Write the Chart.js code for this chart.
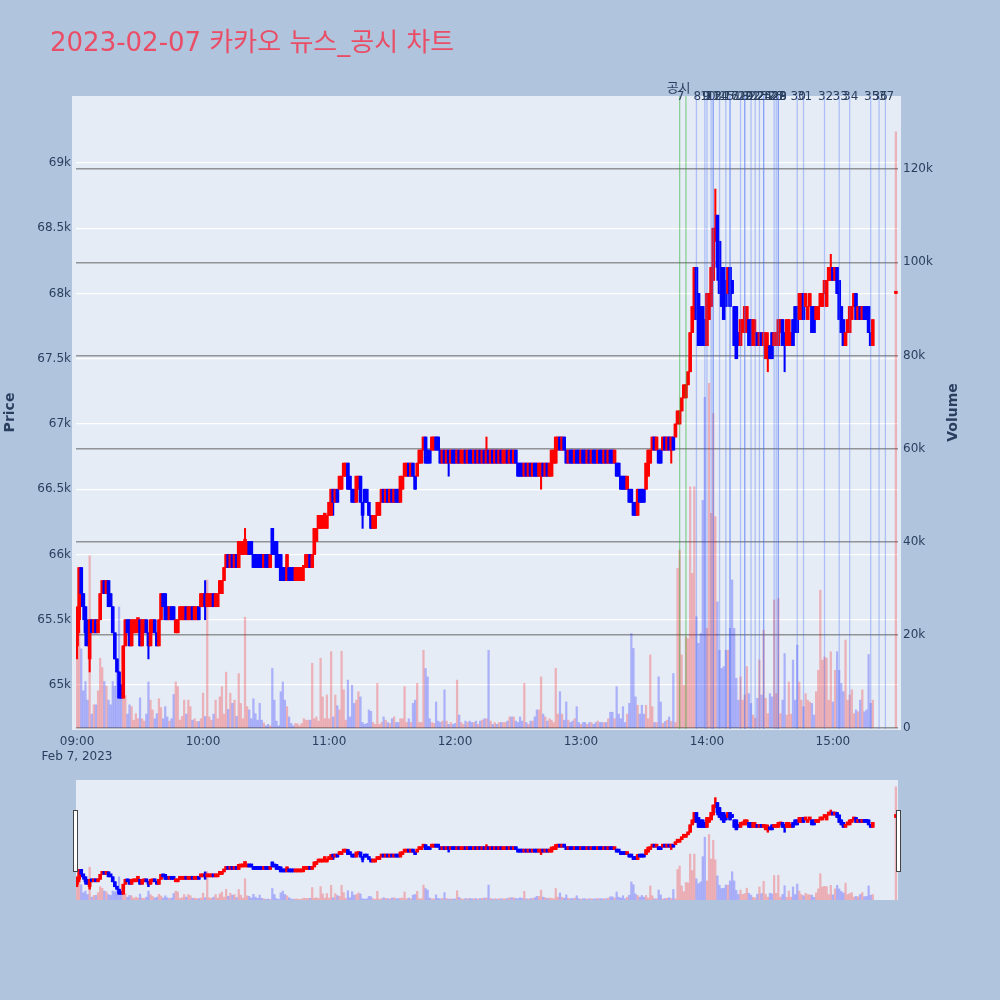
<!DOCTYPE html>
<html>
<head>
<meta charset="utf-8">
<script src="https://cdn.jsdelivr.net/npm/chart.js@4.4.0/dist/chart.umd.min.js"></script>
<style>
  html, body { margin: 0; padding: 0; background: #b0c4de; }
  #wrap { position: relative; width: 1000px; height: 1000px; }
  #main { position: absolute; left: 0; top: 0; }
  #slider { position: absolute; left: 76px; top: 780px; }
  .handle { position: absolute; top: 810px; width: 3px; height: 60px; background: #fff; border: 1px solid #444; }
</style>
</head>
<body>
<div id="wrap">
  <canvas id="main" width="1000" height="1000"></canvas>
  <canvas id="slider" width="822" height="120"></canvas>
  <div class="handle" style="left:73px"></div>
  <div class="handle" style="left:896px"></div>
</div>
<script>
// 1분봉 (09:00 ~ 15:19) + 15:30 종가 단일가
const opens = [
65300,65500,65900,65700,65600,65400,65200,65500,65400,65500,
65400,65500,65700,65800,65700,65800,65700,65600,65400,65200,
65100,65000,64900,65300,65500,65500,65300,65400,65400,65500,
65500,65300,65400,65500,65400,65300,65400,65500,65400,65300,
65500,65700,65700,65600,65500,65600,65600,65400,65400,65500,
65500,65500,65600,65500,65500,65600,65500,65500,65600,65600,
65600,65700,65600,65600,65600,65700,65600,65600,65700,65700,
65800,65900,66000,65900,66000,65900,66000,65900,66000,66000,
66100,66000,66100,66100,66000,66000,66000,66000,66000,65900,
66000,66000,65900,66200,66100,66100,66000,66000,65900,65900,
65800,65900,65900,65900,65800,65800,65800,65800,65900,65900,
65900,66000,65900,66000,66100,66200,66200,66200,66300,66200,
66300,66300,66500,66400,66500,66500,66500,66600,66600,66700,
66600,66500,66500,66400,66500,66600,66400,66500,66500,66400,
66300,66200,66200,66300,66300,66400,66500,66400,66500,66400,
66500,66400,66500,66500,66400,66500,66600,66600,66700,66600,
66700,66600,66600,66700,66700,66800,66900,66800,66800,66800,
66800,66900,66900,66800,66700,66800,66700,66800,66700,66800,
66800,66700,66800,66700,66700,66800,66700,66800,66800,66700,
66800,66700,66800,66700,66800,66700,66800,66700,66800,66700,
66800,66700,66800,66700,66700,66800,66700,66800,66700,66800,
66700,66700,66700,66600,66700,66600,66700,66600,66700,66700,
66600,66600,66700,66600,66700,66600,66600,66700,66700,66800,
66900,66800,66900,66800,66700,66800,66800,66700,66800,66800,
66700,66800,66800,66700,66800,66700,66800,66800,66700,66800,
66800,66700,66800,66700,66800,66800,66700,66700,66700,66600,
66600,66600,66500,66500,66500,66400,66400,66300,66500,66500,
66500,66500,66600,66700,66800,66900,66800,66800,66800,66800,
66900,66800,66900,66800,66900,66900,67000,67000,67100,67200,
67200,67300,67400,67700,67800,68200,68000,67900,67900,67800,
67600,67800,67900,68100,68400,68600,68400,68200,68200,68100,
68000,68200,68100,67900,67900,67700,67600,67700,67700,67700,
67800,67800,67600,67600,67700,67600,67700,67600,67500,67500,
67600,67700,67600,67600,67600,67700,67800,67700,67600,67600,
67600,67800,67900,67900,67800,67800,68000,67900,67800,67900,
67900,67900,67800,67800,67900,67900,68000,67900,68100,68100,
68200,68100,68200,68100,67900,67800,67600,67700,67700,67800,
67900,68000,67800,67900,67800,67900,67900,67900,67700,67600,
68000];

const highs = [
65600,65900,65900,65700,65600,65500,65500,65500,65500,65500,
65500,65700,65800,65800,65800,65800,65700,65600,65400,65200,
65100,65000,65300,65500,65500,65500,65500,65500,65500,65500,
65500,65500,65500,65500,65400,65500,65500,65500,65400,65500,
65700,65700,65700,65600,65600,65600,65600,65500,65500,65600,
65600,65600,65600,65600,65600,65600,65600,65600,65600,65700,
65700,65800,65700,65700,65700,65700,65700,65700,65800,65800,
65900,66000,66000,66000,66000,66000,66000,66100,66100,66100,
66200,66100,66100,66100,66000,66000,66000,66000,66000,66000,
66000,66000,66000,66200,66100,66100,66000,66000,65900,65900,
66000,65900,65900,65900,65900,65900,65900,65900,65900,66000,
66000,66000,66000,66200,66200,66300,66300,66300,66300,66300,
66400,66500,66500,66500,66500,66600,66600,66700,66700,66700,
66600,66500,66500,66600,66600,66600,66400,66500,66500,66400,
66300,66300,66300,66400,66400,66500,66500,66500,66500,66500,
66500,66500,66500,66500,66600,66600,66700,66700,66700,66700,
66700,66600,66700,66800,66800,66900,66900,66800,66800,66900,
66900,66900,66900,66800,66800,66800,66800,66800,66800,66800,
66800,66800,66800,66800,66800,66800,66800,66800,66800,66800,
66800,66800,66800,66800,66800,66900,66800,66800,66800,66800,
66800,66800,66800,66800,66800,66800,66800,66800,66800,66800,
66700,66700,66700,66700,66700,66700,66700,66700,66700,66700,
66700,66700,66700,66700,66700,66700,66800,66800,66900,66900,
66900,66900,66900,66800,66800,66800,66800,66800,66800,66800,
66800,66800,66800,66800,66800,66800,66800,66800,66800,66800,
66800,66800,66800,66800,66800,66800,66800,66700,66700,66600,
66600,66600,66600,66500,66500,66400,66400,66500,66500,66500,
66500,66700,66800,66800,66900,66900,66900,66800,66800,66900,
66900,66900,66900,66900,66900,67000,67100,67100,67200,67300,
67300,67400,67700,67900,68200,68200,68000,67900,67900,67800,
68000,68000,68200,68500,68800,68600,68400,68200,68200,68100,
68200,68200,68100,67900,67900,67700,67800,67800,67900,67900,
67800,67800,67800,67800,67700,67700,67700,67700,67700,67700,
67600,67700,67700,67700,67800,67800,67800,67700,67800,67800,
67700,67800,67900,67900,68000,68000,68000,68000,67900,68000,
67900,67900,67900,67900,68000,68000,68100,68100,68200,68300,
68200,68200,68200,68100,67900,67800,67700,67800,67900,67900,
68000,68000,67900,67900,67900,67900,67900,67900,67700,67800,
68000];

const lows = [
65200,65400,65600,65500,65300,65300,65100,65400,65400,65400,
65400,65500,65700,65700,65700,65600,65600,65400,65200,65100,
64900,64900,64900,65300,65400,65300,65300,65400,65400,65400,
65300,65300,65400,65400,65200,65300,65400,65400,65300,65300,
65500,65600,65500,65500,65500,65500,65500,65400,65400,65500,
65500,65500,65500,65500,65500,65500,65500,65500,65500,65600,
65600,65500,65600,65600,65600,65600,65600,65600,65700,65700,
65800,65900,65900,65900,65900,65900,65900,65900,66000,66000,
66000,66000,66000,66000,65900,65900,65900,65900,65900,65900,
65900,65900,65900,66000,66000,65900,65900,65800,65800,65800,
65800,65800,65800,65800,65800,65800,65800,65800,65800,65900,
65900,65900,65900,66000,66100,66200,66200,66200,66200,66200,
66300,66300,66300,66400,66400,66500,66500,66600,66600,66500,
66500,66400,66400,66400,66500,66400,66200,66400,66400,66300,
66200,66200,66200,66300,66300,66400,66400,66400,66400,66400,
66400,66400,66400,66400,66400,66500,66600,66600,66600,66600,
66600,66500,66600,66700,66700,66800,66700,66700,66700,66800,
66800,66800,66800,66700,66700,66700,66700,66600,66700,66700,
66700,66700,66700,66700,66700,66700,66700,66700,66700,66700,
66700,66700,66700,66700,66700,66700,66700,66700,66700,66700,
66700,66700,66700,66700,66700,66700,66700,66700,66700,66700,
66600,66600,66600,66600,66600,66600,66600,66600,66600,66600,
66600,66500,66600,66600,66600,66600,66600,66700,66700,66800,
66800,66800,66800,66700,66700,66700,66700,66700,66700,66700,
66700,66700,66700,66700,66700,66700,66700,66700,66700,66700,
66700,66700,66700,66700,66700,66700,66700,66600,66600,66500,
66500,66500,66500,66400,66400,66300,66300,66300,66400,66400,
66400,66500,66600,66700,66800,66800,66800,66700,66700,66800,
66800,66800,66800,66700,66800,66900,67000,67000,67100,67200,
67200,67300,67400,67700,67800,67800,67600,67600,67600,67600,
67600,67800,67900,68100,68400,68100,68000,67900,67800,67900,
68000,67900,68000,67600,67500,67600,67600,67700,67700,67700,
67600,67600,67600,67600,67600,67600,67600,67600,67500,67400,
67500,67500,67600,67600,67600,67700,67600,67400,67600,67600,
67600,67600,67700,67700,67800,67800,67800,67900,67800,67900,
67700,67700,67800,67800,67900,67900,68000,67900,68100,68100,
68100,68100,68000,67800,67700,67600,67600,67700,67700,67800,
67900,67800,67800,67800,67800,67800,67800,67700,67600,67600,
68000];

const closes = [
65500,65900,65700,65600,65400,65300,65500,65400,65500,65400,
65500,65700,65800,65700,65800,65600,65600,65400,65200,65100,
64900,64900,65300,65500,65400,65300,65500,65500,65500,65500,
65300,65500,65500,65400,65300,65500,65500,65400,65300,65500,
65700,65600,65500,65500,65600,65500,65500,65500,65500,65600,
65600,65600,65500,65600,65600,65500,65600,65600,65500,65700,
65700,65600,65700,65700,65700,65600,65700,65700,65800,65800,
65900,66000,65900,66000,65900,66000,65900,66100,66100,66100,
66100,66100,66000,66000,65900,65900,65900,65900,65900,66000,
65900,65900,66000,66000,66000,65900,65900,65800,65800,65800,
66000,65800,65800,65800,65900,65900,65900,65900,65900,66000,
66000,65900,66000,66200,66200,66300,66300,66300,66300,66300,
66400,66500,66400,66500,66400,66600,66600,66700,66700,66500,
66500,66400,66400,66600,66600,66400,66300,66400,66400,66300,
66200,66300,66300,66400,66400,66500,66400,66500,66400,66500,
66400,66500,66400,66400,66600,66600,66700,66700,66600,66700,
66600,66500,66700,66800,66800,66900,66700,66700,66700,66900,
66900,66800,66800,66700,66800,66700,66800,66700,66800,66700,
66700,66800,66700,66800,66800,66700,66800,66700,66700,66800,
66700,66800,66700,66800,66700,66800,66700,66800,66700,66800,
66700,66800,66700,66800,66800,66700,66800,66700,66800,66700,
66600,66600,66600,66700,66600,66700,66600,66700,66600,66600,
66700,66700,66600,66700,66600,66700,66800,66800,66900,66900,
66800,66900,66800,66700,66800,66700,66700,66800,66700,66700,
66800,66700,66700,66800,66700,66800,66700,66700,66800,66700,
66700,66800,66700,66800,66700,66700,66800,66600,66600,66500,
66500,66500,66600,66400,66400,66300,66300,66500,66400,66400,
66400,66700,66800,66800,66900,66800,66900,66700,66700,66900,
66800,66900,66800,66900,66800,67000,67100,67100,67200,67300,
67300,67400,67700,67900,68200,67800,67600,67600,67600,67600,
68000,68000,68200,68500,68500,68200,68000,67900,67800,67900,
68200,67900,68000,67600,67500,67600,67800,67800,67900,67900,
67600,67600,67800,67700,67600,67700,67600,67700,67700,67600,
67500,67500,67700,67700,67800,67800,67600,67600,67800,67800,
67700,67600,67700,67700,68000,68000,67800,68000,67900,68000,
67700,67700,67900,67900,68000,68000,68100,68100,68200,68200,
68100,68200,68000,67800,67700,67600,67700,67800,67900,67900,
68000,67800,67900,67800,67900,67800,67800,67700,67600,67800,
68000];

const volumes = [
15000,21000,17000,8000,10000,6000,37000,3000,5000,5000,
8000,15000,13000,10000,9000,6000,5000,10000,9000,12000,
26000,9000,7000,7000,3000,5000,4600,1700,3100,2000,
6500,2000,1500,3000,9900,6000,3900,2000,3100,6300,
4400,2000,4600,2400,1500,2000,7200,9900,8900,1700,
2500,6000,3000,6000,4600,1700,2000,1400,1400,2000,
7500,2500,31800,2400,1700,3000,6000,2000,6700,8900,
3000,12000,4000,7500,5300,6000,2500,11700,5300,2000,
23800,4600,3900,2000,6300,3100,1700,5300,1700,1100,
500,800,500,12800,6000,1500,500,7800,9900,6000,
4600,2400,1000,500,1000,900,500,1000,2000,1700,
1700,1700,13900,2000,2400,1500,15000,6700,2000,7100,
2000,16400,2400,7100,4800,3900,16500,8200,1700,10300,
2400,9200,5300,6000,7800,6700,1200,800,1000,3900,
3600,1200,800,9600,800,1200,2400,1700,1200,1000,
2000,2400,1200,1200,2000,2000,8900,1200,2000,1200,
5300,6000,9600,1200,1200,16700,12800,11000,2000,1200,
1000,5600,1500,1200,1500,8200,1500,800,1200,800,
1000,10300,2800,1200,800,1500,1200,1500,1200,1200,
1500,800,1500,1700,2000,2000,16700,1500,800,1200,
800,1200,1200,1200,1200,1500,2400,2400,2400,1500,
1200,2400,1500,9600,1200,800,1500,1500,2400,3900,
3900,11000,3000,2400,1500,2000,1700,1200,12800,3000,
7800,3000,1700,5600,1700,1200,1500,2000,4600,1200,
800,1200,1200,800,1200,1200,800,1200,1500,1200,
1200,1200,1200,2000,3400,3400,2000,8900,3000,2000,
4600,1200,3000,5300,20300,17100,6700,4900,3000,4900,
3000,4900,2000,15700,4600,1200,1200,11000,5600,1000,
1400,1700,2400,1400,11700,1200,34300,38200,15700,9200,
19600,19200,51800,33200,51800,23900,18200,20300,48900,71000,
21400,74000,46100,67500,45400,27100,16700,12800,13200,16700,
16700,21400,31800,21400,10700,6000,11000,6000,7100,13200,
7400,5300,2800,2100,6400,14600,7100,21000,6400,3100,
7400,6700,27500,7400,27800,3100,6000,16000,2800,9900,
3000,14600,6000,17800,9900,6000,4600,7400,6000,5600,
5300,2800,7800,12400,29600,14600,15300,15000,6000,16400,
5600,12400,16400,12400,9600,7800,18900,6000,7100,8200,
3100,3900,3500,6000,8200,3500,3900,15800,5300,6000,
128000];

// 뉴스/공시 세로선 (09:00 기준 분)
const eventMinutes = [287, 290, 295, 299, 300, 302, 303, 303, 306, 309, 311, 311, 316, 318, 318, 321,
  323, 325, 327, 327, 332, 333, 334, 334, 343, 346, 356, 363, 368, 378, 382, 385];
const eventLabels = ['7', '', '8', '9', '10', '11', '12', '13', '14', '15', '16', '17', '18', '19', '20', '21',
  '22', '23', '24', '25', '26', '27', '28', '29', '30', '31', '32', '33', '34', '35', '36', '37'];
const eventKinds = ['news', 'news', 'disc', 'disc', 'disc', 'disc', 'disc', 'disc', 'disc', 'disc', 'disc',
  'disc', 'disc', 'disc', 'disc', 'disc', 'disc', 'disc', 'disc', 'disc', 'disc', 'disc', 'disc', 'disc',
  'disc', 'disc', 'disc', 'disc', 'disc', 'disc', 'disc', 'disc'];
const groupLabel = '공시';
const groupLabelMinute = 286.5;

const hourTicks = [0, 60, 120, 180, 240, 300, 360];
const hourLabels = ['09:00', '10:00', '11:00', '12:00', '13:00', '14:00', '15:00'];
const dateLabel = 'Feb 7, 2023';
const priceTicks = [65000, 65500, 66000, 66500, 67000, 67500, 68000, 68500, 69000];
const volumeTicks = [0, 20000, 40000, 60000, 80000, 100000, 120000];
const auctionMinute = 390;

const TITLE = '2023-02-07 카카오 뉴스_공시 차트';
const FONT = '"DejaVu Sans", "Noto Sans CJK KR", sans-serif';
const INK = '#2a3f5f';

Chart.defaults.font.family = FONT;
Chart.defaults.font.size = 12;
Chart.defaults.color = INK;

const minutes = opens.map((_, i) => (i < opens.length - 1 ? i : auctionMinute));
const upColors = opens.map((o, i) => (closes[i] >= o ? '#ff0000' : '#0000ff'));
const volColors = opens.map((o, i) => (closes[i] >= o ? 'rgba(255,0,0,0.25)' : 'rgba(0,0,255,0.25)'));

function makeDatasets(bodyMin, wickWidth) {
  return [
    {
      label: 'body', yAxisID: 'y', order: 1, grouped: false, barThickness: 3, minBarLength: bodyMin,
      data: minutes.map((m, i) => ({ x: m, y: [opens[i], closes[i]] })),
      backgroundColor: upColors
    },
    {
      label: 'wick', yAxisID: 'y', order: 2, grouped: false, barThickness: wickWidth,
      data: minutes.map((m, i) => ({ x: m, y: [lows[i], highs[i]] })),
      backgroundColor: upColors
    },
    {
      label: 'Volume', yAxisID: 'yv', order: 3, grouped: false, barThickness: 1.6,
      data: minutes.map((m, i) => ({ x: m, y: volumes[i] })),
      backgroundColor: volColors
    }
  ];
}

const backdrop = {
  id: 'backdrop',
  beforeDraw(chart) {
    const ctx = chart.ctx;
    const a = chart.chartArea;
    ctx.save();
    ctx.fillStyle = '#e5ecf6';
    ctx.fillRect(a.left - 4, a.top, a.right - a.left + 7, a.bottom - a.top + 1);
    ctx.restore();
  }
};

const overlay = {
  id: 'overlay',
  afterDatasetsDraw(chart) {
    const ctx = chart.ctx;
    const xs = chart.scales.x;
    const { top, bottom } = chart.chartArea;
    ctx.save();
    ctx.lineWidth = 1.3;
    eventMinutes.forEach((m, i) => {
      const px = xs.getPixelForValue(m);
      ctx.strokeStyle = eventKinds[i] === 'news' ? 'rgba(30,170,30,0.45)' : 'rgba(70,110,245,0.35)';
      ctx.beginPath();
      ctx.moveTo(px, top);
      ctx.lineTo(px, bottom);
      ctx.stroke();
    });
    ctx.fillStyle = INK;
    ctx.font = '12px ' + FONT;
    ctx.textAlign = 'center';
    ctx.textBaseline = 'middle';
    eventMinutes.forEach((m, i) => {
      if (eventLabels[i]) ctx.fillText(eventLabels[i], xs.getPixelForValue(m) + 1, top + 1);
    });
    ctx.font = '13px ' + FONT;
    ctx.fillText(groupLabel, xs.getPixelForValue(groupLabelMinute), top - 7);
    ctx.restore();
  },
  afterDraw(chart) {
    const ctx = chart.ctx;
    const a = chart.chartArea;
    const midY = (a.top + a.bottom) / 2;
    ctx.save();
    ctx.fillStyle = '#ea4d66';
    ctx.font = '26px ' + FONT;
    ctx.textAlign = 'left';
    ctx.textBaseline = 'alphabetic';
    ctx.fillText(TITLE, 50, 51);
    ctx.fillStyle = INK;
    ctx.font = 'bold 14px ' + FONT;
    ctx.textAlign = 'center';
    ctx.textBaseline = 'middle';
    [['Price', 10], ['Volume', 953]].forEach(([t, x]) => {
      ctx.save();
      ctx.translate(x, midY);
      ctx.rotate(-Math.PI / 2);
      ctx.fillText(t, 0, 0);
      ctx.restore();
    });
    ctx.restore();
  }
};

new Chart(document.getElementById('main'), {
  type: 'bar',
  data: { datasets: makeDatasets(2.2, 1.4) },
  plugins: [backdrop, overlay],
  options: {
    responsive: false,
    animation: false,
    layout: { padding: { top: 96, left: 0, right: 38, bottom: 231 } },
    plugins: { legend: { display: false }, tooltip: { enabled: false } },
    scales: {
      x: {
        type: 'linear', min: -0.5, max: 391, offset: false,
        grid: { display: false, drawTicks: false, offset: false },
        border: { display: false },
        afterBuildTicks: s => { s.ticks = hourTicks.map(v => ({ value: v })); },
        afterFit: s => { s.height = 40; },
        ticks: {
          autoSkip: false, maxRotation: 0, padding: 6,
          callback: v => {
            const i = hourTicks.indexOf(v);
            return i === 0 ? [hourLabels[0], dateLabel] : hourLabels[i];
          }
        }
      },
      y: {
        position: 'left', min: 64663, max: 69513,
        grid: { color: '#ffffff', lineWidth: 1.3, drawTicks: false },
        border: { display: false },
        afterBuildTicks: s => { s.ticks = priceTicks.map(v => ({ value: v })); },
        afterFit: s => { s.width = 76; },
        ticks: { padding: 5, callback: v => (v / 1000) + 'k' }
      },
      yv: {
        position: 'right', min: -200, max: 135700,
        grid: { color: 'rgba(110,110,110,0.7)', lineWidth: 1.4, drawTicks: false },
        border: { display: false },
        afterBuildTicks: s => { s.ticks = volumeTicks.map(v => ({ value: v })); },
        afterFit: s => { s.width = 64; },
        ticks: { padding: 5, callback: v => (v === 0 ? '0' : (v / 1000) + 'k') }
      }
    }
  }
});

const sliderBg = {
  id: 'sliderBg',
  beforeDraw(chart) {
    const ctx = chart.ctx;
    ctx.save();
    ctx.fillStyle = '#e5ecf6';
    ctx.fillRect(0, 0, chart.width, chart.height);
    ctx.restore();
  }
};

new Chart(document.getElementById('slider'), {
  type: 'bar',
  data: { datasets: makeDatasets(3, 1.8) },
  plugins: [sliderBg],
  options: {
    responsive: false,
    animation: false,
    layout: { padding: 0 },
    plugins: { legend: { display: false }, tooltip: { enabled: false } },
    scales: {
      x: { type: 'linear', min: -0.5, max: 391, offset: false, display: false },
      y: { min: 64663, max: 69513, display: false },
      yv: { position: 'right', min: -200, max: 135700, display: false }
    }
  }
});
</script>
</body>
</html>
